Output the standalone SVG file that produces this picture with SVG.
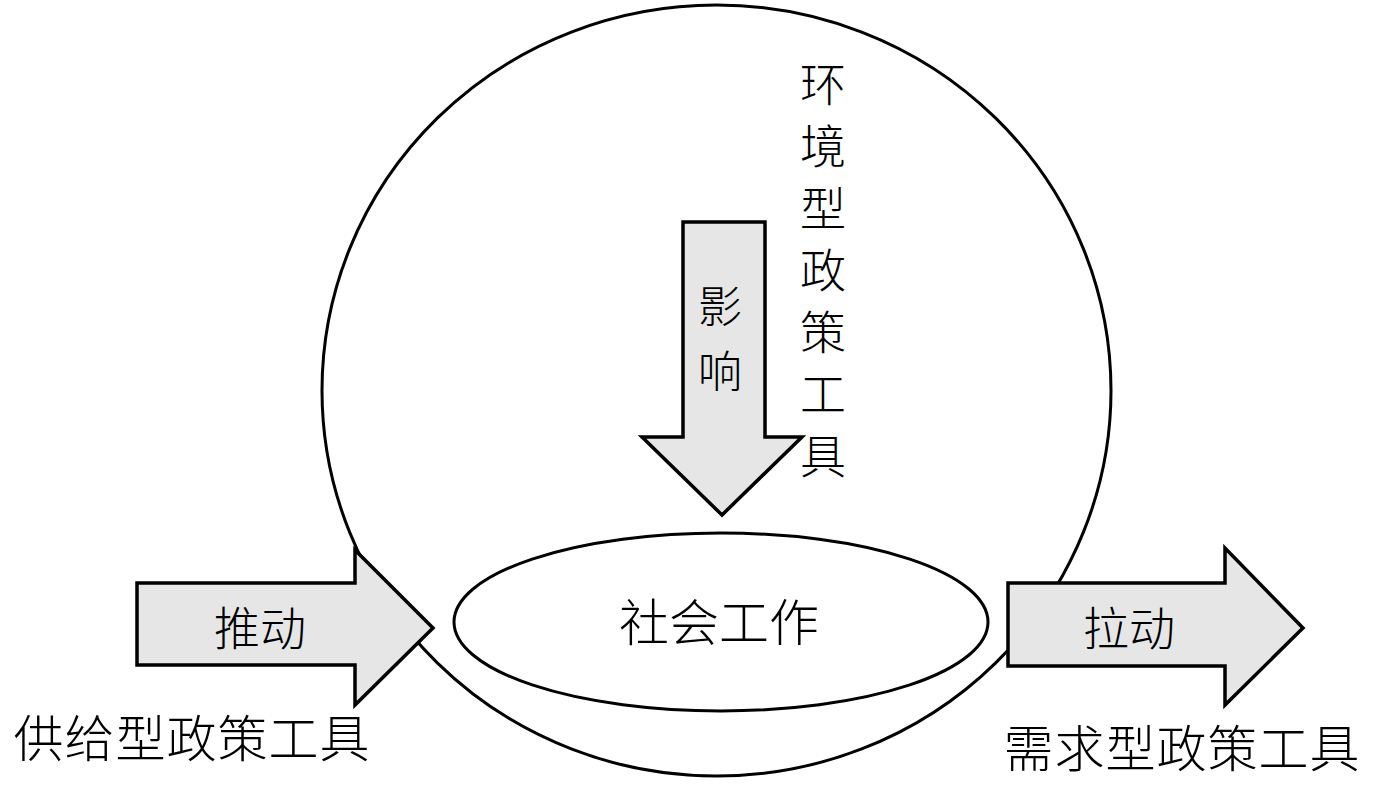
<svg xmlns="http://www.w3.org/2000/svg" width="1378" height="787" viewBox="0 0 1378 787">
<style>
.ln{fill:none;stroke:#000;stroke-width:3}
.ar{fill:#e6e6e6;stroke:#000;stroke-width:3.5;stroke-linejoin:miter}
.t{font-family:"Noto Sans CJK SC","Noto Sans CJK JP",sans-serif;font-weight:300;fill:#000}
</style>
<rect width="1378" height="787" fill="#fff"/>
<g id="environment">
<ellipse class="ln" cx="716.5" cy="390.5" rx="394.5" ry="385.5"/>
<text class="t" font-size="46" text-anchor="middle"><tspan x="823" y="101">环</tspan><tspan x="823" y="163">境</tspan><tspan x="823" y="225">型</tspan><tspan x="823" y="287">政</tspan><tspan x="823" y="349">策</tspan><tspan x="823" y="411">工</tspan><tspan x="823" y="473">具</tspan></text>
</g>
<g id="socialwork">
<ellipse class="ln" cx="721" cy="622" rx="267" ry="89" fill="#fff"/>
<text class="t" x="719" y="641" font-size="50" text-anchor="middle">社会工作</text>
</g>
<g id="connectors">
<g id="influence">
<polygon class="ar" points="683,222 765,222 765,437 802,437 722,515 642,437 683,437"/>
<text class="t" font-size="44" text-anchor="middle"><tspan x="720" y="323">影</tspan><tspan x="720" y="388">响</tspan></text>
</g>
<g id="push">
<polygon class="ar" points="137,583 355,583 355,550 433,628 355,705 355,665 137,665"/>
<text class="t" x="260" y="645" font-size="46" text-anchor="middle">推动</text>
</g>
<g id="pull">
<polygon class="ar" points="1008,583 1225,583 1225,548 1303,628 1225,705 1225,666 1008,666"/>
<text class="t" x="1129" y="645" font-size="46" text-anchor="middle">拉动</text>
</g>
</g>
<g id="supply">
<text class="t" x="192" y="757" font-size="50" letter-spacing="1" text-anchor="middle">供给型政策工具</text>
</g>
<g id="demand">
<text class="t" x="1182" y="767" font-size="50" letter-spacing="1" text-anchor="middle">需求型政策工具</text>
</g>
</svg>
